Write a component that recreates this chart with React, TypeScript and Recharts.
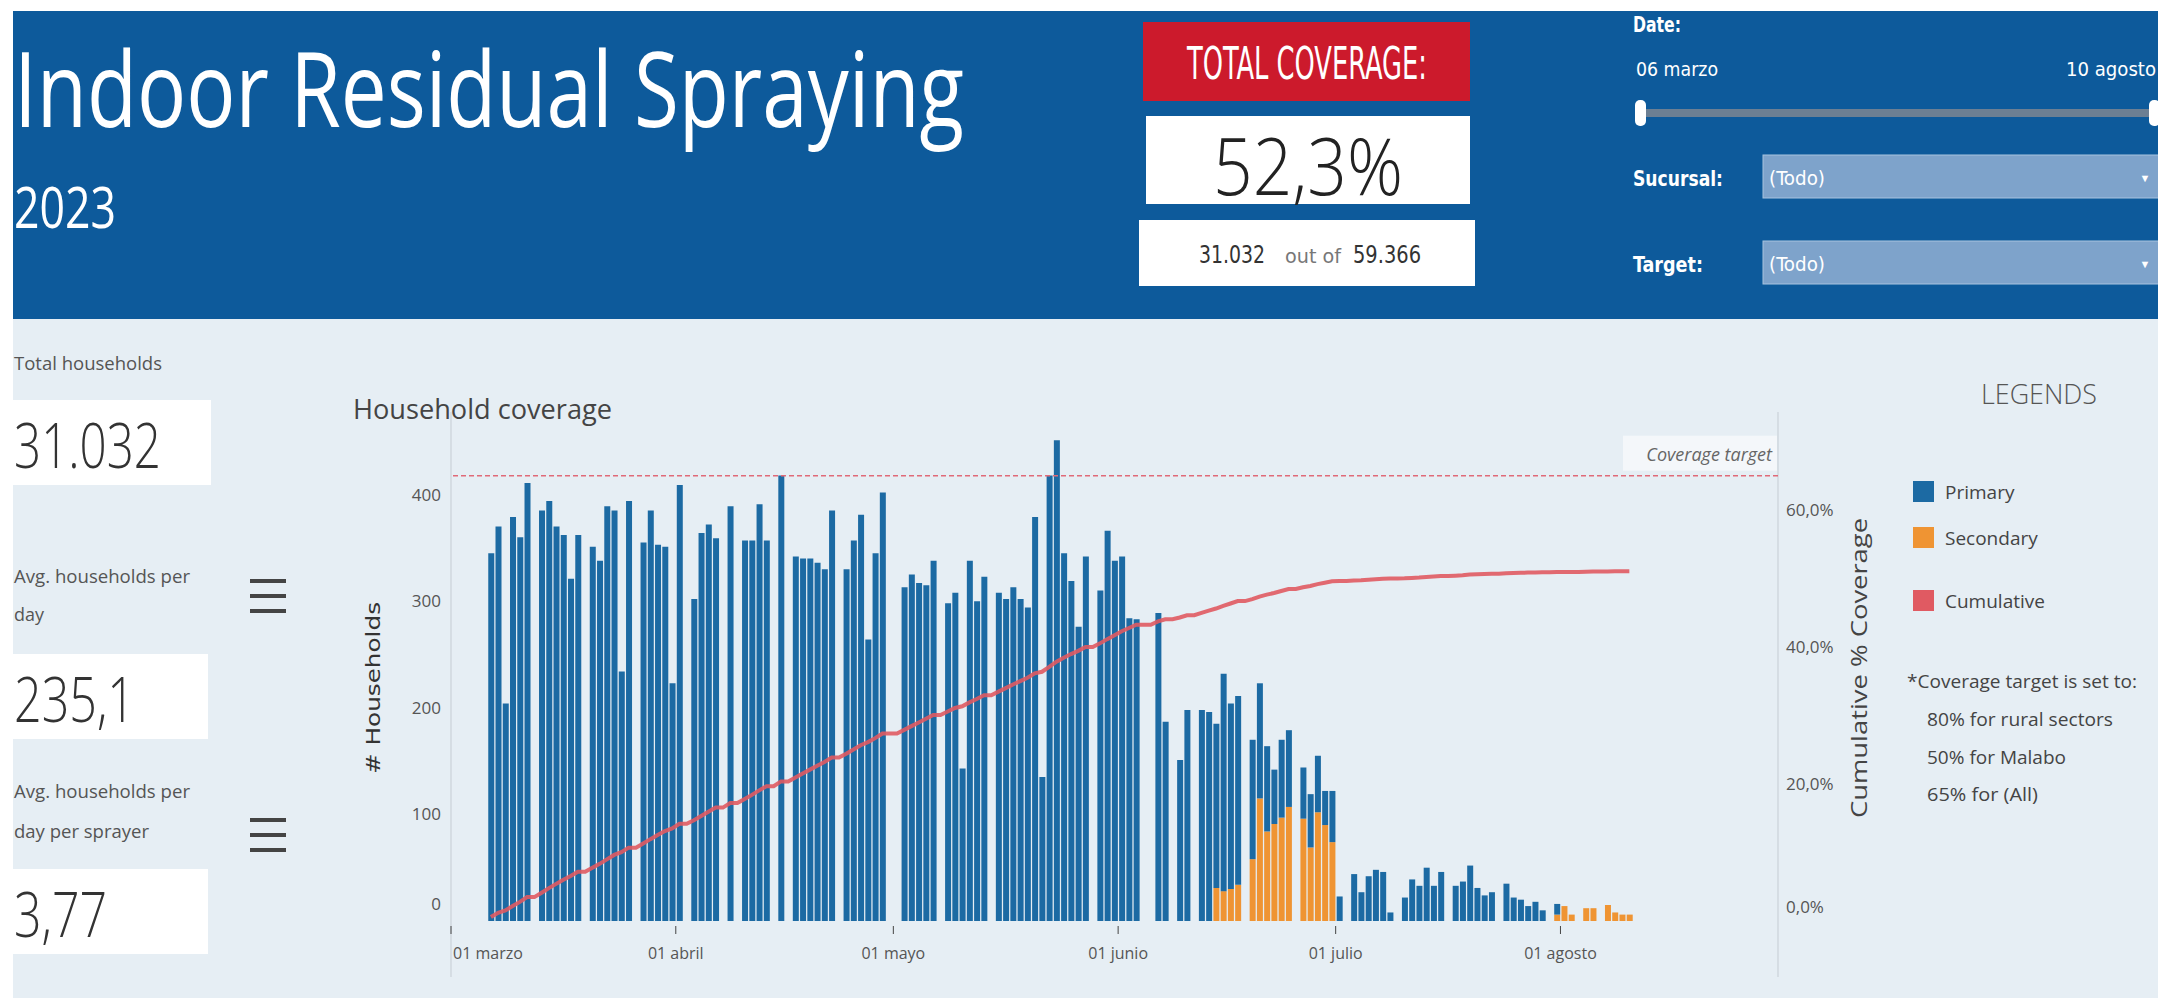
import React from 'react';
import { ComposedChart, Bar, Line, XAxis, YAxis, ReferenceLine } from 'recharts';

// households sprayed per day (days counted from 01 marzo)
const FIRST_DAY = 5; // 06 marzo
const TARGET_HOUSEHOLDS = 59366;
const COVERAGE_TARGET = 65;

const primaryMarch = [345, 370, 204, 379, 360, 411, 0, 385, 394, 370, 362, 321, 362, 0, 351, 338, 389, 385, 234, 394, 0, 355, 385, 353, 351, 223];
const primaryApril = [409, 0, 302, 364, 372, 359, 0, 389, 0, 357, 357, 391, 357, 0, 418, 0, 342, 340, 340, 336, 330, 385, 0, 330, 357, 381, 264, 345, 402, 0];
const primaryMay = [0, 313, 325, 317, 315, 338, 0, 298, 308, 143, 338, 300, 323, 0, 308, 302, 313, 302, 294, 379, 135, 418, 451, 345, 319, 276, 342, 0, 310, 366, 338];
const primaryJune = [342, 284, 283, 0, 0, 289, 187, 0, 151, 198, 0, 198, 196, 154, 204, 174, 177, 0, 112, 108, 80, 51, 73, 72, 0, 48, 50, 53, 32, 48];
const primaryJuly = [23, 0, 44, 27, 42, 48, 46, 8, 0, 22, 39, 33, 50, 33, 46, 0, 33, 37, 52, 31, 24, 27, 0, 35, 22, 20, 14, 18, 10, 0, 10];
const primaryAugust = [0, 0, 0, 0, 0, 0, 0, 0, 0, 0];

// secondary spraying only starts in June
const SECONDARY_FROM = 26 + 30 + 31; // index of 01 junio in the daily list
const secondaryJune = [0, 0, 0, 0, 0, 0, 0, 0, 0, 0, 0, 0, 0, 31, 28, 30, 34, 0, 58, 115, 84, 91, 97, 107, 0, 96, 69, 102, 90, 74];
const secondaryJuly = [0, 0, 0, 0, 0, 0, 0, 0, 0, 0, 0, 0, 0, 0, 0, 0, 0, 0, 0, 0, 0, 0, 0, 0, 0, 0, 0, 0, 0, 0, 6];
const secondaryAugust = [14, 6, 0, 12, 12, 0, 15, 8, 6, 6];

const monthTicks = [0, 31, 61, 92, 122, 153];
const monthLabels = ['01 marzo', '01 abril', '01 mayo', '01 junio', '01 julio', '01 agosto'];
const householdTicks = [0, 100, 200, 300, 400];
const coverageTicks = [0, 20, 40, 60];

const primary = [...primaryMarch, ...primaryApril, ...primaryMay, ...primaryJune, ...primaryJuly, ...primaryAugust];
const secondary = [...secondaryJune, ...secondaryJuly, ...secondaryAugust];

let running = 0;
const rows = primary.map((p, i) => {
  const s = i >= SECONDARY_FROM ? secondary[i - SECONDARY_FROM] : 0;
  running += p + s;
  return {
    day: FIRST_DAY + i + 0.5,
    primary: p,
    secondary: s,
    cumulative: (running / TARGET_HOUSEHOLDS) * 100,
  };
});

const BLUE = '#1c6aa3';
const ORANGE = '#ef9433';
const RED = '#e05a62';
const FONT = '"Open Sans", "Noto Sans", sans-serif';
const COND = '"Liberation Sans Narrow", "DejaVu Sans Condensed", "Liberation Sans", sans-serif';

const MonthTick = (props: any) => {
  const { x, y, payload } = props;
  const idx = monthTicks.indexOf(payload.value);
  return (
    <text x={idx === 0 ? x + 2 : x} y={y + 23} textAnchor={idx === 0 ? 'start' : 'middle'}
      fontSize={16} fill="#555" fontFamily={FONT}>
      {monthLabels[idx]}
    </text>
  );
};

const HouseholdTick = (props: any) => {
  const { x, y, payload } = props;
  return (
    <text x={x} y={payload.value === 0 ? y - 11 : y + 6} textAnchor="end" fontSize={17} fill="#555" fontFamily={FONT}>
      {payload.value}
    </text>
  );
};

const CoverageTick = (props: any) => {
  const { x, y, payload } = props;
  return (
    <text x={x} y={payload.value === 0 ? y - 8 : y + 6} textAnchor="start" fontSize={17} fill="#555" fontFamily={FONT}>
      {payload.value},0%
    </text>
  );
};

const TargetLabel = (props: any) => {
  const vb = props.viewBox || {};
  const right = vb.x + vb.width;
  const ly = vb.y;
  return (
    <g>
      <rect x={right - 155} y={ly - 40} width={154} height={35} fill="#f4f7fa" />
      <text x={right - 6} y={ly - 15} textAnchor="end" fontSize={18} fontStyle="italic" fill="#666" fontFamily={FONT}>
        Coverage target
      </text>
    </g>
  );
};

const T = (p: any) => (
  <text x={p.x} y={p.y} fontSize={p.size} fill={p.fill || '#555'} fontWeight={p.weight || 400}
    fontFamily={p.family || FONT} textAnchor={p.anchor || 'start'} fontStyle={p.italic ? 'italic' : 'normal'}
    textLength={p.len} lengthAdjust={p.len ? 'spacingAndGlyphs' : undefined} transform={p.transform}>
    {p.children}
  </text>
);

export default function App() {
  return (
    <div style={{ position: 'relative', width: 2158, height: 998, overflow: 'hidden', background: '#fff' }}>
      <style>{'body{margin:0}'}</style>
      <svg width={2158} height={998} style={{ position: 'absolute', left: 0, top: 0 }}>
        <rect x={13} y={319} width={2145} height={679} fill="#e6eef4" />
        <rect x={13} y={11} width={2145} height={308} fill="#0d5a9b" />

        <T x={14} y={127} size={104} fill="#fff" weight={500} len={950}>Indoor Residual Spraying</T>
        <T x={14} y={228} size={56} fill="#fff" len={102}>2023</T>

        <rect x={1143} y={22} width={327} height={79} fill="#cc1a2c" />
        <T x={1307} y={79} size={44} fill="#fff" anchor="middle" family={COND} len={240}>TOTAL COVERAGE:</T>
        <rect x={1146} y={116} width={324} height={88} fill="#fff" />
        <T x={1308} y={195} size={80} fill="#222" weight={300} anchor="middle" len={190}>52,3%</T>
        <rect x={1139} y={220} width={336} height={66} fill="#fff" />
        <T x={1199} y={263} size={24} fill="#333" family={COND} len={66}>31.032</T>
        <T x={1285} y={263} size={20} fill="#777" family={COND} len={56}>out of</T>
        <T x={1353} y={263} size={24} fill="#333" family={COND} len={68}>59.366</T>

        <T x={1633} y={32} size={22} fill="#fff" weight={700} family={COND} len={48}>Date:</T>
        <T x={1636} y={76} size={20} fill="#fff" family={COND} len={82}>06 marzo</T>
        <T x={2156} y={76} size={20} fill="#fff" anchor="end" family={COND} len={90}>10 agosto</T>
        <rect x={1642} y={109} width={510} height={8} fill="#6c7f93" />
        <rect x={1635} y={100} width={11} height={26} rx={5} fill="#fff" />
        <rect x={2149} y={100} width={11} height={26} rx={5} fill="#fff" />
        <T x={1633} y={186} size={22} fill="#fff" weight={700} family={COND} len={90}>Sucursal:</T>
        <rect x={1763} y={155} width={400} height={43} fill="#7ea3cb" stroke="#a8c3e0" />
        <T x={1769} y={185} size={20} fill="#fff" family={COND} len={56}>(Todo)</T>
        <T x={2145} y={182} size={11} fill="#fff" anchor="middle">▼</T>
        <T x={1633} y={272} size={22} fill="#fff" weight={700} family={COND} len={70}>Target:</T>
        <rect x={1763} y={241} width={400} height={43} fill="#7ea3cb" stroke="#a8c3e0" />
        <T x={1769} y={271} size={20} fill="#fff" family={COND} len={56}>(Todo)</T>
        <T x={2145} y={268} size={11} fill="#fff" anchor="middle">▼</T>

        <T x={14} y={370} size={18} len={148}>Total households</T>
        <rect x={13} y={400} width={198} height={85} fill="#fff" />
        <T x={14} y={468} size={62} weight={300} fill="#333" len={147}>31.032</T>
        <T x={14} y={583} size={18} len={176}>Avg. households per</T>
        <T x={14} y={621} size={18} len={30}>day</T>
        <rect x={13} y={654} width={195} height={85} fill="#fff" />
        <T x={14} y={722} size={62} weight={300} fill="#333" len={121}>235,1</T>
        <T x={14} y={798} size={18} len={176}>Avg. households per</T>
        <T x={14} y={838} size={18} len={135}>day per sprayer</T>
        <rect x={13} y={869} width={195} height={85} fill="#fff" />
        <T x={14} y={937} size={62} weight={300} fill="#333" len={93}>3,77</T>
        {[579, 594, 609, 818, 833, 848].map((y) => (
          <rect key={y} x={250} y={y} width={36} height={4} fill="#444" />
        ))}

        <T x={353} y={419} size={28} fill="#444" len={259}>Household coverage</T>
        <T x={0} y={0} size={19} fill="#333" anchor="middle" len={172} family='"DejaVu Sans", sans-serif'
          transform="translate(380,688) rotate(-90)"># Households</T>
        <T x={0} y={0} size={21} fill="#444" anchor="middle" len={300}
          transform="translate(1867,668) rotate(-90)">Cumulative % Coverage</T>
        <line x1={451} y1={412} x2={451} y2={977} stroke="#c5ccd3" />
        <line x1={1778} y1={412} x2={1778} y2={977} stroke="#c5ccd3" />

        <T x={2039} y={404} size={27} fill="#555" weight={300} anchor="middle" len={116}>LEGENDS</T>
        <rect x={1913} y={481} width={21} height={21} fill={BLUE} />
        <T x={1945} y={499} size={19} fill="#444">Primary</T>
        <rect x={1913} y={527} width={21} height={21} fill={ORANGE} />
        <T x={1945} y={545} size={19} fill="#444">Secondary</T>
        <rect x={1913} y={590} width={21} height={21} fill={RED} />
        <T x={1945} y={608} size={19} fill="#444">Cumulative</T>
        <T x={1907} y={688} size={19} fill="#444" len={230}>*Coverage target is set to:</T>
        <T x={1927} y={726} size={19} fill="#444" len={186}>80% for rural sectors</T>
        <T x={1927} y={764} size={19} fill="#444" len={139}>50% for Malabo</T>
        <T x={1927} y={801} size={19} fill="#444" len={111}>65% for (All)</T>
      </svg>

      <div style={{ position: 'absolute', left: 361, top: 392 }}>
        <ComposedChart width={1500} height={606} data={rows} margin={{ top: 20, right: 0, bottom: 22, left: 0 }}>
          <XAxis dataKey="day" type="number" domain={[0, 183]} ticks={monthTicks} interval={0}
            allowDataOverflow tick={<MonthTick />} tickSize={8} tickLine={{ stroke: '#444' }} axisLine={false} height={50} />
          <YAxis yAxisId="left" domain={[-4.7, 477.5]} ticks={householdTicks} allowDataOverflow width={90}
            tick={<HouseholdTick />} tickLine={false} axisLine={false} tickSize={0} tickMargin={10} />
          <YAxis yAxisId="right" orientation="right" domain={[-0.73, 74.3]} ticks={coverageTicks} allowDataOverflow
            width={83} tick={<CoverageTick />} tickLine={false} axisLine={false} tickSize={0} tickMargin={8} />
          <Bar yAxisId="left" dataKey="secondary" stackId="hh" fill={ORANGE} barSize={6} isAnimationActive={false} />
          <Bar yAxisId="left" dataKey="primary" stackId="hh" fill={BLUE} barSize={6} isAnimationActive={false} />
          <ReferenceLine yAxisId="right" y={COVERAGE_TARGET} stroke="#e06a78" strokeDasharray="5 3" strokeWidth={1.5}
            label={<TargetLabel />} />
          <Line yAxisId="right" dataKey="cumulative" type="linear" stroke={RED} strokeWidth={4} strokeOpacity={0.9}
            dot={false} isAnimationActive={false} />
        </ComposedChart>
      </div>
    </div>
  );
}
